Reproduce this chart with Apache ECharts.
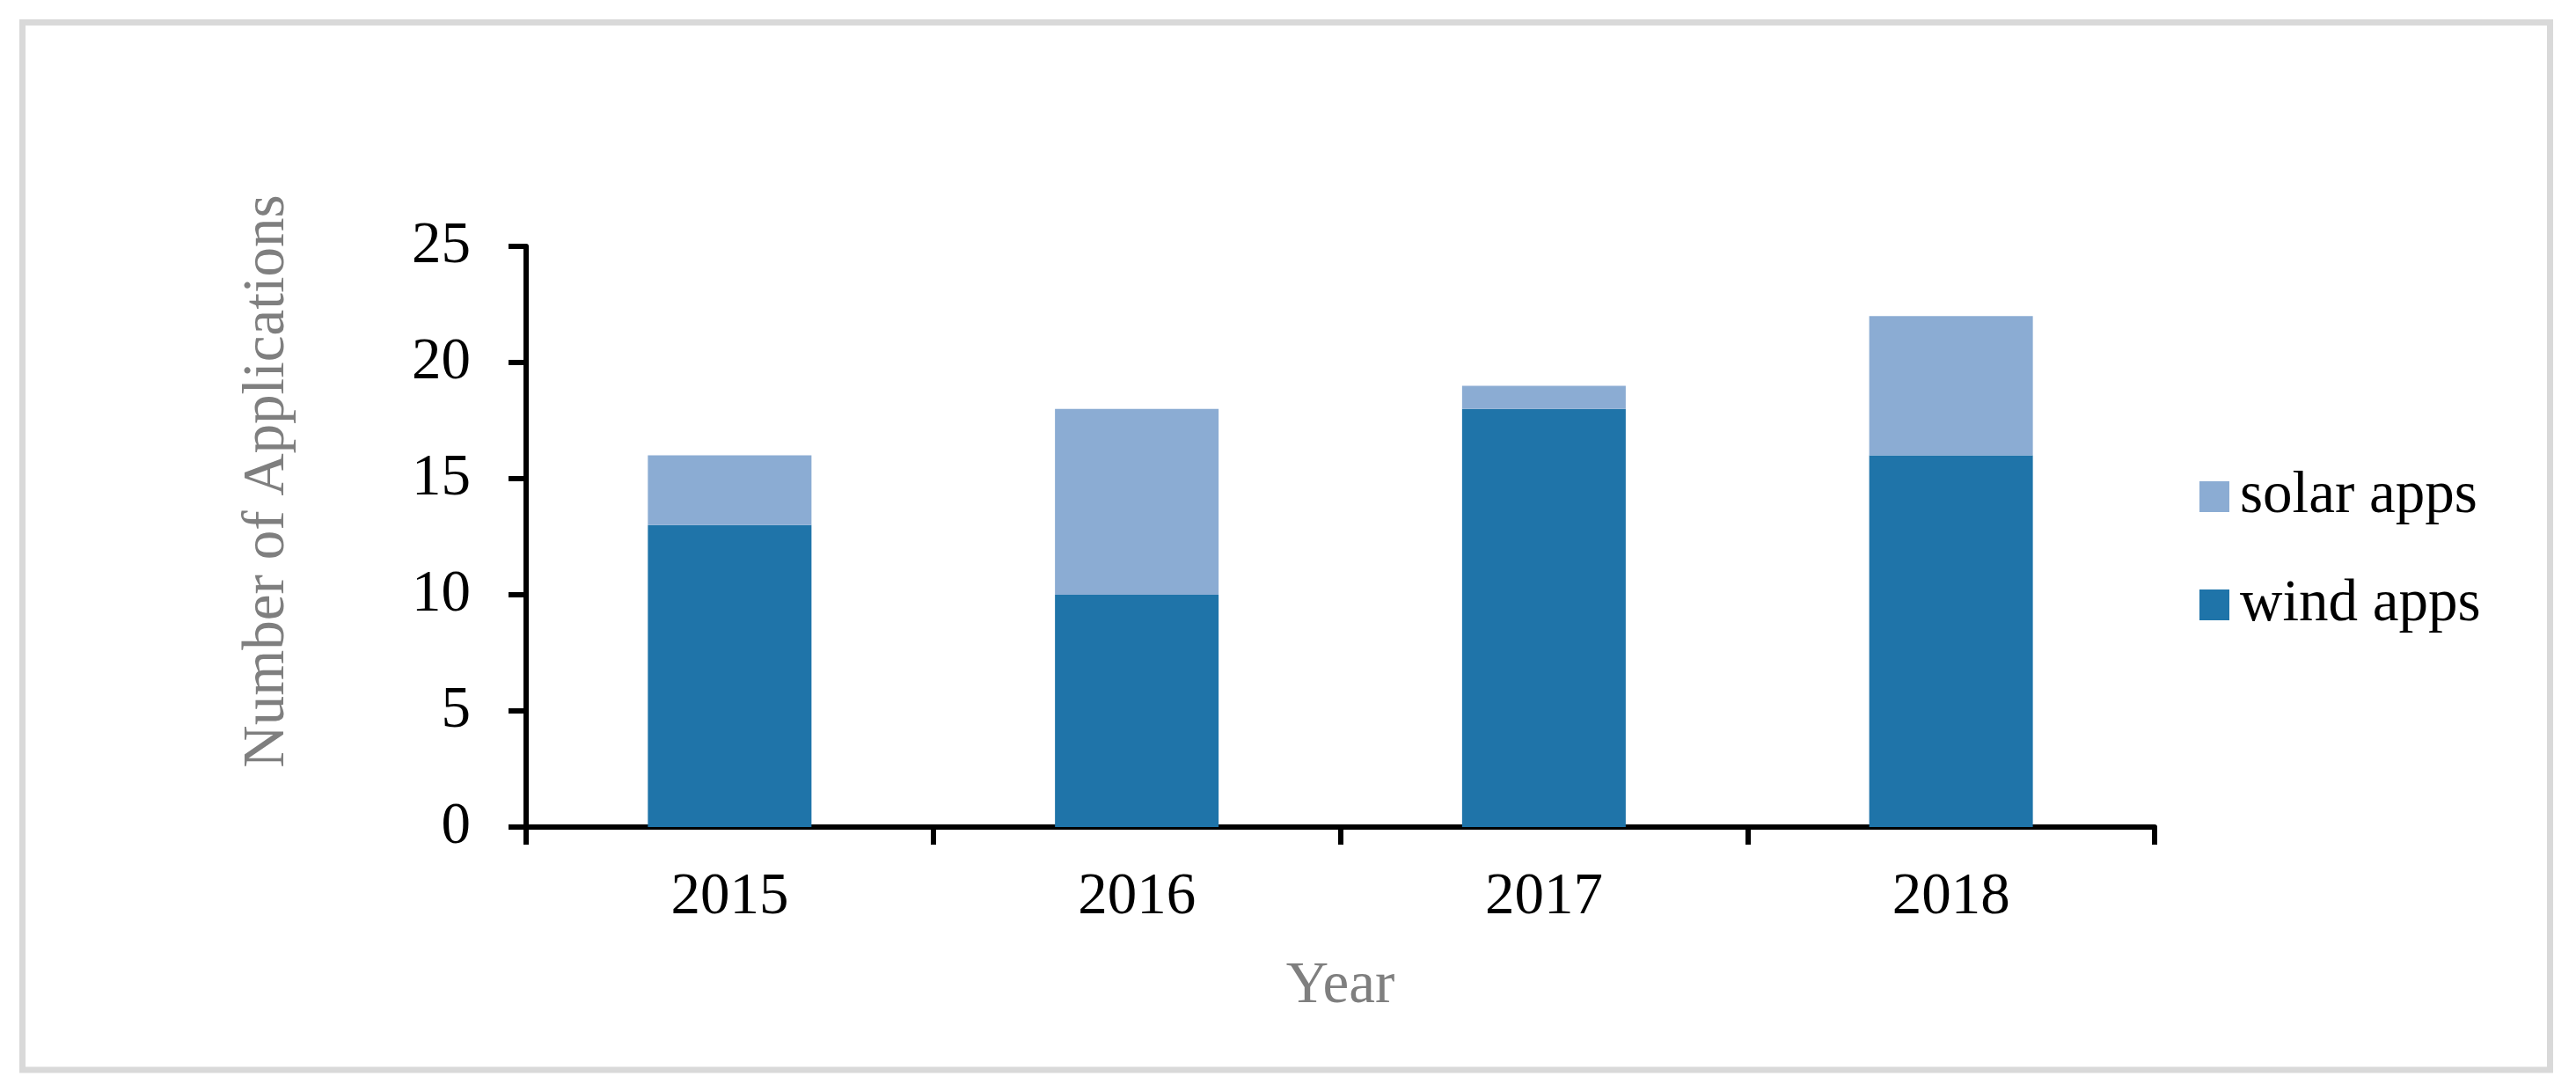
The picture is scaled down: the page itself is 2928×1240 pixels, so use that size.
<!DOCTYPE html>
<html>
<head>
<meta charset="utf-8">
<script src="https://cdn.jsdelivr.net/npm/echarts@6/dist/echarts.min.js"></script>
<style>
html,body{margin:0;padding:0;background:#fff;}
#main{width:2928px;height:1240px;}
</style>
</head>
<body>
<div id="main"></div>
<script>
const categories = ['2015', '2016', '2017', '2018'];
const windApps = [13, 10, 18, 16];
const solarApps = [3, 8, 1, 6];
const seriesNames = ['wind apps', 'solar apps'];
const yTicks = {min: 0, max: 25, interval: 5};

const FONT = "'Liberation Serif', 'Times New Roman', serif";
const FS = 67;
const chart = echarts.init(document.getElementById('main'), null, {renderer: 'canvas'});
chart.setOption({
  animation: false,
  backgroundColor: '#ffffff',
  textStyle: {fontFamily: FONT},
  graphic: [{
    type: 'rect',
    shape: {x: 25.5, y: 25.5, width: 2873, height: 1190.5},
    style: {fill: 'none', stroke: '#d9d9d9', lineWidth: 7},
    silent: true
  }],
  grid: {left: 598, right: 479, top: 280, bottom: 300, containLabel: false},
  legend: {
    orient: 'vertical',
    left: 2495,
    top: 526,
    data: [seriesNames[1], seriesNames[0]],
    itemWidth: 34,
    itemHeight: 35,
    itemGap: 56,
    icon: 'rect',
    textStyle: {fontFamily: FONT, fontSize: FS, color: '#000', lineHeight: 67, padding: [0, 0, 0, 7]},
    selectedMode: false
  },
  xAxis: {
    type: 'category',
    data: categories,
    name: 'Year',
    nameLocation: 'middle',
    nameGap: 148,
    nameTextStyle: {fontFamily: FONT, fontSize: FS, color: '#7f7f7f'},
    axisLine: {lineStyle: {color: '#000', width: 6}},
    axisTick: {show: true, alignWithLabel: false, length: 20, lineStyle: {color: '#000', width: 6}},
    axisLabel: {fontFamily: FONT, fontSize: FS, color: '#000', margin: 47},
    boundaryGap: true
  },
  yAxis: {
    type: 'value',
    min: yTicks.min,
    max: yTicks.max,
    interval: yTicks.interval,
    name: 'Number of Applications',
    nameLocation: 'middle',
    nameGap: 260,
    nameRotate: 90,
    nameTextStyle: {fontFamily: FONT, fontSize: FS, color: '#7f7f7f', padding: [0, 0, 0, 126]},
    axisLine: {show: true, lineStyle: {color: '#000', width: 6}},
    axisTick: {show: true, length: 20, lineStyle: {color: '#000', width: 6}},
    axisLabel: {fontFamily: FONT, fontSize: FS, color: '#000', margin: 63},
    splitLine: {show: false}
  },
  series: [
    {
      name: seriesNames[0],
      type: 'bar',
      stack: 'total',
      data: windApps,
      barWidth: 186,
      itemStyle: {color: '#1f74a9'}
    },
    {
      name: seriesNames[1],
      type: 'bar',
      stack: 'total',
      data: solarApps,
      barWidth: 186,
      itemStyle: {color: '#8bacd3'}
    }
  ]
});
</script>
</body>
</html>
